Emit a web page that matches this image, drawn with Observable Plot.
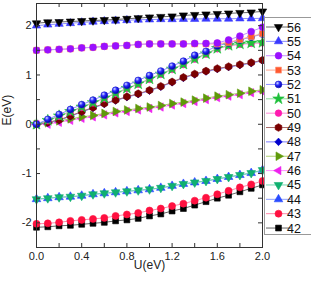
<!DOCTYPE html>
<html><head><meta charset="utf-8">
<script src="https://cdn.jsdelivr.net/npm/d3@7"></script>
<script src="https://cdn.jsdelivr.net/npm/@observablehq/plot@0.6"></script>
<style>body{margin:0;background:#fff}#chart{position:relative;width:311px;height:283px;overflow:hidden}</style>
</head><body><div id="chart"></div>
<script>
// ---- data ----
const U = [0.0,0.1,0.2,0.3,0.4,0.5,0.6,0.7,0.8,0.9,1.0,1.1,1.2,1.3,1.4,1.5,1.6,1.7,1.8,1.9,2.0];
const E56 = [2.05,2.07,2.075,2.085,2.095,2.105,2.115,2.125,2.14,2.155,2.17,2.18,2.19,2.21,2.22,2.23,2.24,2.25,2.26,2.27,2.29];
const E55 = [2.00,2.02,2.035,2.05,2.065,2.08,2.09,2.10,2.11,2.12,2.125,2.13,2.13,2.135,2.135,2.14,2.14,2.14,2.145,2.145,2.15];
const E54 = [1.50,1.51,1.52,1.53,1.55,1.56,1.58,1.59,1.60,1.62,1.63,1.63,1.63,1.63,1.64,1.64,1.65,1.71,1.79,1.88,1.97];
const E53 = [1.50,1.51,1.52,1.53,1.55,1.56,1.58,1.59,1.60,1.62,1.63,1.63,1.63,1.63,1.63,1.63,1.63,1.66,1.72,1.78,1.84];
const E52 = [0.00,0.10,0.20,0.30,0.40,0.49,0.59,0.69,0.79,0.89,0.99,1.08,1.18,1.28,1.40,1.48,1.59,1.65,1.71,1.77,1.83];
const E51 = [0.00,0.08,0.17,0.26,0.35,0.44,0.53,0.63,0.73,0.82,0.92,1.02,1.12,1.22,1.33,1.43,1.54,1.60,1.63,1.65,1.66];
const E50 = [0.00,0.07,0.16,0.25,0.34,0.43,0.52,0.62,0.72,0.81,0.91,1.01,1.11,1.21,1.32,1.42,1.53,1.59,1.62,1.64,1.65];
const E49 = [0.00,0.04,0.09,0.17,0.26,0.34,0.42,0.49,0.56,0.62,0.69,0.77,0.86,0.95,1.02,1.08,1.13,1.17,1.21,1.25,1.30];
const E48 = [0.00,0.03,0.08,0.16,0.25,0.33,0.41,0.48,0.55,0.61,0.68,0.76,0.85,0.94,1.01,1.07,1.12,1.16,1.20,1.24,1.29];
const E47 = [0.00,0.03,0.07,0.11,0.15,0.18,0.22,0.26,0.29,0.32,0.35,0.38,0.42,0.45,0.49,0.53,0.57,0.60,0.63,0.67,0.70];
const E46 = [0.00,0.00,0.04,0.08,0.12,0.15,0.19,0.23,0.26,0.29,0.32,0.35,0.39,0.42,0.46,0.50,0.54,0.57,0.60,0.64,0.67];
const E45 = [-1.52,-1.50,-1.48,-1.47,-1.45,-1.42,-1.40,-1.38,-1.36,-1.34,-1.32,-1.29,-1.25,-1.21,-1.18,-1.15,-1.11,-1.07,-1.03,-0.99,-0.93];
const E44 = [-1.52,-1.50,-1.48,-1.47,-1.45,-1.42,-1.40,-1.38,-1.36,-1.34,-1.32,-1.29,-1.25,-1.21,-1.18,-1.15,-1.11,-1.07,-1.03,-0.99,-0.93];
const E43 = [-2.02,-2.01,-1.99,-1.96,-1.94,-1.92,-1.90,-1.86,-1.83,-1.80,-1.75,-1.71,-1.66,-1.61,-1.55,-1.49,-1.42,-1.35,-1.28,-1.22,-1.15];
const E42 = [-2.09,-2.08,-2.06,-2.05,-2.03,-2.01,-1.99,-1.96,-1.94,-1.91,-1.86,-1.82,-1.76,-1.71,-1.64,-1.57,-1.50,-1.44,-1.37,-1.30,-1.23];
const seriesNames = ["42","43","44","45","46","47","48","49","50","51","52","53","54","55","56"];
const seriesValues = [E42,E43,E44,E45,E46,E47,E48,E49,E50,E51,E52,E53,E54,E55,E56];
const xTickLabels = [0.0,0.4,0.8,1.2,1.6,2.0];
const yTickLabels = [-2,-1,0,1,2];
const xMinorTicks = [0.2,0.4,0.6,0.8,1.0,1.2,1.4,1.6,1.8];
const yMinorTicks = [-2,-1.5,-1,-0.5,0,0.5,1,1.5,2];

// ---- symbols ----
function tri(angle){return {draw(ctx,size){const s=Math.sqrt(size*4/Math.sqrt(3));const R=s/Math.sqrt(3);
  for(let k=0;k<3;k++){const a=(angle+k*120)*Math.PI/180;const x=R*Math.sin(a),y=-R*Math.cos(a);k?ctx.lineTo(x,y):ctx.moveTo(x,y);}ctx.closePath();}};}
const hexagon={draw(ctx,size){const R=Math.sqrt(2*size/(3*Math.sqrt(3)));for(let k=0;k<6;k++){const a=(k*60+30)*Math.PI/180;const x=R*Math.cos(a),y=R*Math.sin(a);k?ctx.lineTo(x,y):ctx.moveTo(x,y);}ctx.closePath();}};
const diamond={draw(ctx,size){const d=Math.sqrt(size/2);ctx.moveTo(0,-d);ctx.lineTo(d,0);ctx.lineTo(0,d);ctx.lineTo(-d,0);ctx.closePath();}};

const styles = {
 "56":{sym:tri(180),fill:"#000000",stroke:"#000000",line:"#666666",r:3.1},
 "55":{sym:tri(0),fill:"#3a3aff",stroke:"#3a3aff",line:"#8c8cff",r:3.1},
 "54":{sym:"circle",fill:"#9a10ff",stroke:"#9a10ff",line:"#c890ff",r:3.4},
 "53":{sym:"square",fill:"#ff5a30",stroke:"#ff9a80",line:"#ffa890",r:3.4},
 "52":{sym:"circle",fill:"url(#ball)",stroke:"#1a1acc",line:"#8f8fff",r:3.4},
 "51":{sym:"star",fill:"#1fbf3a",stroke:"#1fbf3a",line:"#88e098",r:3.6},
 "50":{sym:"circle",fill:"#ff1ab0",stroke:"#ff1ab0",line:"#ff8ad8",r:3.3},
 "49":{sym:hexagon,fill:"#7a0000",stroke:"#7a0000",line:"#a86a6a",r:3.5},
 "48":{sym:diamond,fill:"#0000cc",stroke:"#0000cc",line:"#7a7aff",r:3.0},
 "47":{sym:tri(90),fill:"#5f9a0a",stroke:"#5f9a0a",line:"#b0d070",r:3.2},
 "46":{sym:tri(-90),fill:"#ee22ee",stroke:"#ee22ee",line:"#ff90ff",r:3.1},
 "45":{sym:tri(180),fill:"#10b070",stroke:"#10b070",line:"#70d8b0",r:3.2},
 "44":{sym:tri(0),fill:"#2a4cff",stroke:"#2a4cff",line:"#90a0ff",r:3.2},
 "43":{sym:"circle",fill:"#ff1040",stroke:"#ff1040",line:"#ff88aa",r:3.5},
 "42":{sym:"square",fill:"#000000",stroke:"#000000",line:"#666666",r:3.3}
};

const marks = [];
seriesNames.forEach((n,i)=>{
  const rows = U.map((u,j)=>({u, e:seriesValues[i][j]}));
  const st = styles[n];
  marks.push(Plot.line(rows,{x:"u",y:"e",stroke:st.line,strokeWidth:1}));
  marks.push(Plot.dot(rows,{x:"u",y:"e",symbol:st.sym,fill:st.fill,stroke:st.stroke,strokeWidth:0.6,r:st.r}));
});

const font = "'Liberation Sans', Arial, sans-serif";
const plot = Plot.plot({
  width:311, height:283,
  marginLeft:36, marginRight:49, marginTop:3, marginBottom:36,
  x:{domain:[0,2]}, y:{domain:[-2.5,2.45]},
  style:{fontFamily:font, fontSize:"11px", color:"#222", background:"white", overflow:"visible"},
  marks:[
    ...marks,
    Plot.tickX(xMinorTicks,{x:d=>d, insetTop:240, stroke:"#333"}),
    Plot.tickX(xMinorTicks,{x:d=>d, insetBottom:240, stroke:"#333"}),
    Plot.tickY(yMinorTicks,{y:d=>d, insetRight:222, stroke:"#333"}),
    Plot.tickY(yMinorTicks,{y:d=>d, insetLeft:222, stroke:"#333"}),
    Plot.frame({stroke:"#333", strokeWidth:1}),
    Plot.axisX(xTickLabels,{tickSize:0, tickPadding:5, tickFormat:d=>d.toFixed(1), label:null, fontSize:11}),
    Plot.axisY(yTickLabels,{tickSize:0, tickPadding:5, tickFormat:d=>String(d), label:null, fontSize:11}),
    Plot.text(["U(eV)"],{frameAnchor:"bottom", dy:21, fontSize:12}),
    Plot.text(["E(eV)"],{frameAnchor:"left", dx:-29, rotate:-90, fontSize:12})
  ]
});

// gradient for ball markers
const svg = d3.select(plot);
const defs = svg.insert("defs",":first-child");
const g = defs.append("radialGradient").attr("id","ball").attr("cx","0.35").attr("cy","0.3").attr("r","0.7");
g.append("stop").attr("offset","0").attr("stop-color","#d8e0ff");
g.append("stop").attr("offset","0.45").attr("stop-color","#2a2aff");
g.append("stop").attr("offset","1").attr("stop-color","#0000a0");

// legend
const lg = svg.append("g").attr("font-family",font).attr("font-size",12.5).attr("fill","#111");
lg.append("rect").attr("x",264.5).attr("y",17.5).attr("width",70).attr("height",217).attr("fill","white").attr("stroke","#999");
const order = seriesNames.slice().reverse();
order.forEach((n,k)=>{
  const st = styles[n];
  const y = 27 + k*14.36;
  lg.append("line").attr("x1",266).attr("x2",291).attr("y1",y).attr("y2",y).attr("stroke",st.line).attr("stroke-width",1);
  lg.append("path").attr("transform",`translate(278.5,${y})`)
    .attr("d", d3.symbol(typeof st.sym==="string"?{circle:d3.symbolCircle,square:d3.symbolSquare,star:d3.symbolStar}[st.sym]:st.sym, Math.PI*st.r*st.r)())
    .attr("fill",st.fill).attr("stroke",st.stroke).attr("stroke-width",0.6);
  lg.append("text").attr("x",294).attr("y",y).attr("dy","0.36em").text(n);
});

document.getElementById("chart").appendChild(plot);
</script>
</body></html>
